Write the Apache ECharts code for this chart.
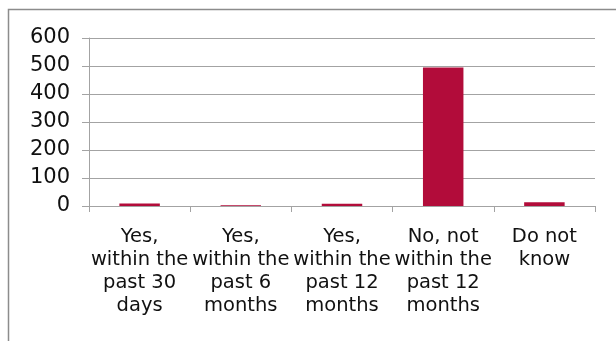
<!DOCTYPE html>
<html>
<head>
<meta charset="utf-8">
<script src="https://cdn.jsdelivr.net/npm/echarts@6/dist/echarts.min.js"></script>
<style>
  html, body { margin: 0; padding: 0; background: #fff; }
  #chart { width: 616px; height: 341px; }
</style>
</head>
<body>
<div id="chart"></div>
<script>
// Survey answers and response counts
const categories = [
  'Yes,\nwithin the\npast 30\ndays',
  'Yes,\nwithin the\npast 6\nmonths',
  'Yes,\nwithin the\npast 12\nmonths',
  'No, not\nwithin the\npast 12\nmonths',
  'Do not\nknow'
];
const counts = [9, 3, 8, 495, 13];
const yTicks = { min: 0, max: 600, step: 100 };

const gridColor = '#a3a3a3';
const textFont = '"DejaVu Sans", Verdana, sans-serif';

const chart = echarts.init(document.getElementById('chart'), null, { renderer: 'canvas' });
chart.setOption({
  animation: false,
  backgroundColor: '#ffffff',
  graphic: [{
    type: 'rect',
    shape: { x: 8.5, y: 9.5, width: 700, height: 400 },
    style: { fill: 'none', stroke: '#8c8c8c', lineWidth: 1.5 },
    silent: true
  }],
  grid: { left: 89, right: 21, top: 38, bottom: 135, containLabel: false },
  xAxis: {
    type: 'category',
    data: categories,
    axisLine: { show: true, lineStyle: { color: gridColor, width: 1 } },
    axisTick: { show: true, alignWithLabel: false, length: 6, lineStyle: { color: gridColor } },
    axisLabel: {
      interval: 0,
      margin: 19,
      color: '#111',
      fontFamily: textFont,
      fontSize: 19.5,
      lineHeight: 23,
      align: 'center'
    },
    splitLine: { show: false }
  },
  yAxis: {
    type: 'value',
    min: yTicks.min,
    max: yTicks.max,
    interval: yTicks.step,
    axisLine: { show: true, lineStyle: { color: gridColor, width: 1 } },
    axisTick: { show: true, length: 7, lineStyle: { color: gridColor } },
    axisLabel: {
      margin: 19,
      color: '#111',
      fontFamily: textFont,
      fontSize: 21
    },
    splitLine: { show: true, lineStyle: { color: gridColor, width: 1 } }
  },
  series: [{
    type: 'bar',
    data: counts,
    barWidth: '40%',
    itemStyle: { color: '#b20c3a' }
  }]
});
</script>
</body>
</html>
